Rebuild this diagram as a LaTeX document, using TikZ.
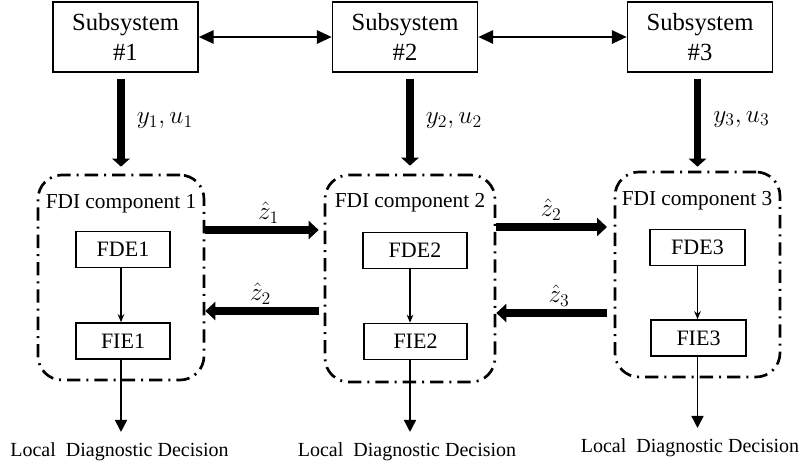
\documentclass[tikz,border=0pt]{standalone}
\usepackage{fix-cm}
\usepackage{fontspec}
\setmainfont{Liberation Serif}
\usetikzlibrary{arrows.meta,calc}
\begin{document}
\begin{tikzpicture}[x=0.75pt,y=-0.75pt,
  sub/.style={draw, line width=1.3pt, minimum width=108.75pt, minimum height=52.5pt,
    align=center, font=\fontsize{18.5}{22.5}\selectfont, inner sep=0pt},
  comp/.style={draw, line width=2pt, rounded corners=18pt,
    dash pattern=on 10pt off 4.5pt on 1.5pt off 4.5pt, inner sep=0pt},
  est/.style={draw, line width=1.3pt, minimum height=27pt,
    font=\fontsize{16.5}{19}\selectfont, inner sep=0pt},
  clabel/.style={font=\fontsize{16}{19}\selectfont, inner sep=0pt},
  outtxt/.style={font=\fontsize{15}{18}\selectfont, inner sep=0pt},
  mlabel/.style={font=\fontsize{19}{22}\selectfont, inner sep=0pt},
  dbl/.style={line width=1.2pt, {Triangle[length=11pt,width=10pt]}-{Triangle[length=11pt,width=10pt]}},
  vthick/.style={line width=5.8pt, -{Triangle[length=6pt,width=13pt]}},
  hthick/.style={line width=6pt, -{Triangle[length=7.5pt,width=13.5pt]}},
  thinarr/.style={line width=0.8pt, -{Stealth[length=6pt,width=5pt]}},
  outarr/.style={line width=1.2pt, -{Triangle[length=9pt,width=9pt]}}
]
\useasboundingbox (0,0) rectangle (807,465);

% subsystems
\node[sub] (S1) at (125.5,37) {Subsystem\\\#1};
\node[sub] (S2) at (405,37) {Subsystem\\\#2};
\node[sub] (S3) at (700,37) {Subsystem\\\#3};

% FDI components
\node[comp, minimum width=124.5pt, minimum height=153.75pt] (C1) at (121,277.5) {};
\node[comp, minimum width=127.5pt, minimum height=155.25pt] (C2) at (410,278.5) {};
\node[comp, minimum width=123.75pt, minimum height=153.75pt] (C3) at (697.5,274.5) {};

\node[clabel] (L1) at (121,204) {FDI component 1};
\node[clabel] (L2) at (410,203) {FDI component 2};
\node[clabel] (L3) at (697,201) {FDI component 3};

% estimators
\node[est, minimum width=70.5pt] (FDE1) at (123,249.5) {FDE1};
\node[est, minimum width=70.5pt] (FIE1) at (123,341) {FIE1};
\node[est, minimum width=78pt] (FDE2) at (415,250.5) {FDE2};
\node[est, minimum width=77pt] (FIE2) at (415.5,341.5) {FIE2};
\node[est, minimum width=71pt] (FDE3) at (697.5,247.5) {FDE3};
\node[est, minimum width=71pt] (FIE3) at (698.5,338) {FIE3};

% outputs
\node[outtxt] (O1) at (119.5,452) {Local\ \ Diagnostic Decision};
\node[outtxt] (O2) at (407,452) {Local\ \ Diagnostic Decision};
\node[outtxt] (O3) at (690,448) {Local\ \ Diagnostic Decision};

% row coordinates
\coordinate (r1) at (0,230);
\coordinate (r2) at (0,311);
\coordinate (r3) at (0,227);
\coordinate (r4) at (0,313);

% subsystem links
\draw[dbl] (S1.east) -- (S2.west);
\draw[dbl] (S2.east) -- (S3.west);

% measurements
\draw[vthick, shorten <=4.5pt, shorten >=5.25pt] (S1.south -| C1.north) -- (C1.north)
  node[mlabel, midway, right=9pt, yshift=2pt] {$y_1, u_1$};
\draw[vthick, shorten <=4.5pt, shorten >=6pt] (S2.south -| C2.north) -- (C2.north)
  node[mlabel, midway, right=9pt, yshift=2pt] {$y_2, u_2$};
\draw[vthick, shorten <=4.5pt, shorten >=3pt] (S3.south -| C3.north) -- (C3.north)
  node[mlabel, midway, right=9pt, yshift=2pt] {$y_3, u_3$};

% exchanged estimates
\draw[hthick, shorten >=3.75pt] (C1.east |- r1) -- (C2.west |- r1)
  node[mlabel, midway, yshift=13pt, xshift=3pt] {$\hat{z}_1$};
\draw[hthick, shorten <=3.5pt] (C2.west |- r2) -- (C1.east |- r2)
  node[mlabel, midway, yshift=13pt, xshift=-3pt] {$\hat{z}_2$};
\draw[hthick, shorten >=5pt] (C2.east |- r3) -- (C3.west |- r3)
  node[mlabel, midway, yshift=13pt, xshift=-3pt] {$\hat{z}_2$};
\draw[hthick, shorten <=5pt] (C3.west |- r4) -- (C2.east |- r4)
  node[mlabel, midway, yshift=13pt, xshift=3pt] {$\hat{z}_3$};

% internal arrows
\draw[thinarr] (FDE1.south -| C1) -- (FIE1.north -| C1);
\draw[thinarr] (FDE2.south -| C2) -- (FIE2.north -| C2);
\draw[thinarr] (FDE3.south -| C3) -- (FIE3.north -| C3);

% decisions
\draw[outarr, shorten >=8pt] (FIE1.south -| C1) -- (O1.north -| C1);
\draw[outarr, shorten >=8pt] (FIE2.south -| C2) -- (O2.north -| C2);
\draw[outarr, shorten >=8pt] (FIE3.south -| C3) -- (O3.north -| C3);
\end{tikzpicture}
\end{document}
